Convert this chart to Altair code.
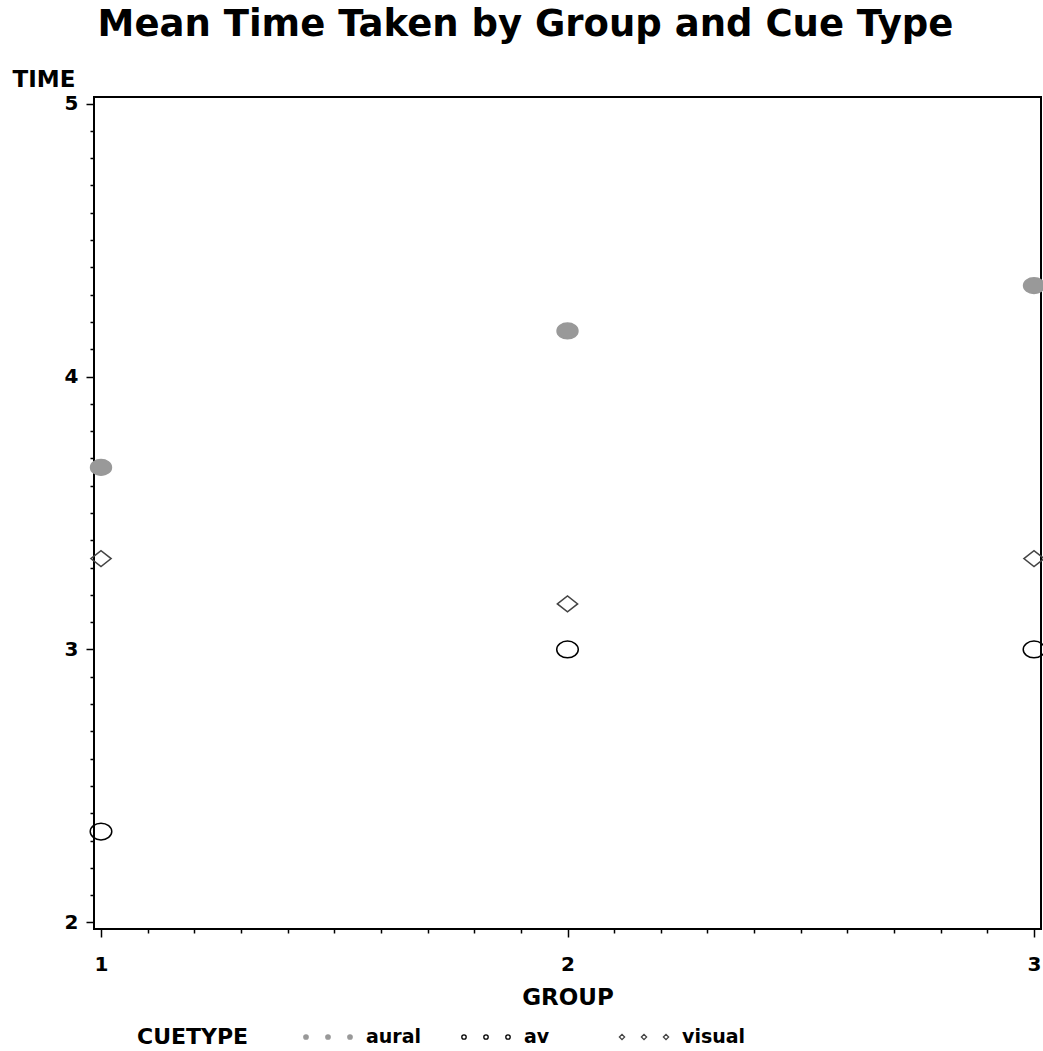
import altair as alt
import pandas as pd

# ---- data ----
groups = [1, 2, 3]
cue_types = ["aural", "av", "visual"]
aural_time = [3.667, 4.167, 4.333]
av_time = [2.333, 3.0, 3.0]
visual_time = [3.333, 3.167, 3.333]

x_ticks = [round(1 + i * 0.1, 1) for i in range(21)]
y_ticks = [round(2 + i * 0.1, 1) for i in range(31)]

rows = []
for cue, series in zip(cue_types, [aural_time, av_time, visual_time]):
    for g, t in zip(groups, series):
        rows.append({"GROUP": g, "TIME": t, "CUETYPE": cue})
df = pd.DataFrame(rows)

# ---- marker shapes (unit-square SVG paths) ----
K = 0.5523


def ellipse(a, b, cx=0.0):
    return (f"M{cx + a:.3f},0 C{cx + a:.3f},{b * K:.3f} {cx + a * K:.3f},{b:.3f} {cx:.3f},{b:.3f} "
            f"C{cx - a * K:.3f},{b:.3f} {cx - a:.3f},{b * K:.3f} {cx - a:.3f},0 "
            f"C{cx - a:.3f},{-b * K:.3f} {cx - a * K:.3f},{-b:.3f} {cx:.3f},{-b:.3f} "
            f"C{cx + a * K:.3f},{-b:.3f} {cx + a:.3f},{-b * K:.3f} {cx + a:.3f},0 Z")


def diamond(a, b, cx=0.0):
    return f"M{cx - a:.3f},0 L{cx:.3f},{-b:.3f} L{cx + a:.3f},0 L{cx:.3f},{b:.3f} Z"


main_shapes = [ellipse(0.95, 0.72), ellipse(0.98, 0.76), diamond(0.92, 0.72)]
offs = [-2.2, 0.0, 2.2]
legend_shapes = [
    " ".join(ellipse(0.22, 0.22, c) for c in offs),
    " ".join(ellipse(0.22, 0.22, c) for c in offs),
    " ".join(diamond(0.26, 0.26, c) for c in offs),
]
fills = ["#999999", "transparent", "transparent"]
strokes = ["#999999", "#000000", "#444444"]

FONT = "DejaVu Sans"

tick_size = {"condition": {"test": "datum.value % 1 === 0", "value": 8}, "value": 4}
label_expr = "datum.value % 1 === 0 ? datum.label : ''"

x_axis = alt.Axis(
    values=x_ticks, tickSize=tick_size, labelExpr=label_expr, format=".0f", grid=False, domain=False,
    tickColor="black", tickWidth=1.5, labelFont=FONT, labelFontSize=20, labelFontWeight="bold",
    labelColor="black", labelPadding=17, labelOverlap=False, labelFlush=False,
    title="GROUP", titleFont=FONT, titleFontSize=23, titleFontWeight="bold", titleColor="black",
    titleBaseline="alphabetic", titleY=75,
)
y_axis = alt.Axis(
    values=y_ticks, tickSize=tick_size, labelExpr=label_expr, format=".0f", grid=False, domain=False,
    tickColor="black", tickWidth=1.5, labelFont=FONT, labelFontSize=20, labelFontWeight="bold",
    labelColor="black", labelPadding=8, labelOverlap=False, labelFlush=False,
    title="TIME", titleFont=FONT, titleFontSize=23, titleFontWeight="bold", titleColor="black",
    titleAngle=0, titleAlign="left", titleBaseline="alphabetic", titleX=-82, titleY=-11,
)

xs = alt.Scale(domain=[0.985, 3.015], nice=False, zero=False)
ys = alt.Scale(domain=[1.976, 5.024], nice=False, zero=False)

points = alt.Chart(df).mark_point(size=484, strokeWidth=1.5, opacity=1).encode(
    x=alt.X("GROUP:Q", scale=xs, axis=x_axis),
    y=alt.Y("TIME:Q", scale=ys, axis=y_axis),
    shape=alt.Shape("CUETYPE:N", scale=alt.Scale(domain=cue_types, range=main_shapes), legend=None),
    fill=alt.Fill("CUETYPE:N", scale=alt.Scale(domain=cue_types, range=fills), legend=None),
    stroke=alt.Stroke("CUETYPE:N", scale=alt.Scale(domain=cue_types, range=strokes), legend=None),
)

leg = alt.Legend(
    orient="none", legendX=43, legendY=929, direction="horizontal", columns=3,
    title="CUETYPE", titleOrient="left", titleFont=FONT, titleFontSize=22, titleFontWeight="bold",
    titleColor="black", titlePadding=68,
    labelFont=FONT, labelFontSize=19, labelFontWeight="bold", labelColor="black", labelOffset=27,
    symbolSize=400, symbolStrokeWidth=1.3, columnPadding=28, gridAlign="all", padding=0,
)

legend_layer = alt.Chart(df).mark_point(clip=True, opacity=1).encode(
    x=alt.value(-2000),
    y=alt.value(-2000),
    shape=alt.Shape("CUETYPE:N", scale=alt.Scale(domain=cue_types, range=legend_shapes), legend=leg),
    fill=alt.Fill("CUETYPE:N", scale=alt.Scale(domain=cue_types, range=fills), legend=leg),
    stroke=alt.Stroke("CUETYPE:N", scale=alt.Scale(domain=cue_types, range=strokes), legend=leg),
)

chart = alt.layer(points, legend_layer).resolve_scale(
    shape="independent", fill="independent", stroke="independent"
).properties(
    width=947, height=832,
    autosize=alt.AutoSizeParams(type="none"),
    padding={"left": 94, "top": 97, "right": 2, "bottom": 122},
    title=alt.TitleParams(
        "Mean Time Taken by Group and Cue Type", font=FONT, fontSize=37, fontWeight="bold",
        color="black", anchor="middle", dx=-42, dy=-20,
    ),
    background="white",
).configure_view(stroke="black", strokeWidth=2)

chart.save("out.html", embed_options={"renderer": "svg", "actions": False})
